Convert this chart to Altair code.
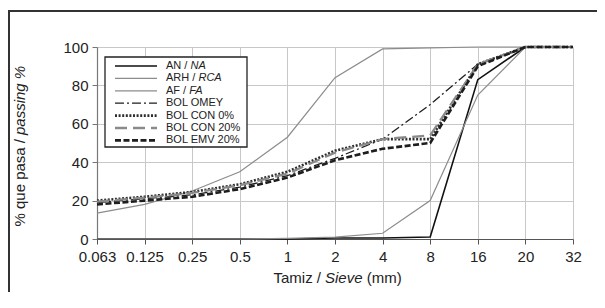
import altair as alt
import pandas as pd

# ---- data ----
sieves = ["0.063", "0.125", "0.25", "0.5", "1", "2", "4", "8", "16", "20", "32"]
an_na = [0, 0, 0, 0, 0, 0.5, 0.5, 1, 83, 100, 100]
arh_rca = [0, 0, 0, 0, 0.3, 1, 3, 20, 75, 100, 100]
af_fa = [13.5, 18, 25, 35, 53, 84, 99, 99.5, 100, 100, 100]
bol_omey = [19, 21, 23, 27, 33, 42, 52, 70, 91, 100, 100]
bol_con0 = [20, 22, 24.5, 28.5, 35, 46, 52, 52, 91, 100, 100]
bol_con20 = [19.5, 21.5, 24, 28, 34, 45, 52, 54, 91, 100, 100]
bol_emv20 = [18, 20, 22, 26, 32, 41, 47, 50, 90, 100, 100]

series_names = ["AN / NA", "ARH / RCA", "AF / FA", "BOL OMEY", "BOL CON 0%", "BOL CON 20%", "BOL EMV 20%"]
legend_plain = ["AN /", "ARH /", "AF /", "BOL OMEY", "BOL CON 0%", "BOL CON 20%", "BOL EMV 20%"]
legend_italic = ["NA", "RCA", "FA", "", "", "", ""]
series_values = [an_na, arh_rca, af_fa, bol_omey, bol_con0, bol_con20, bol_emv20]

# ---- styles ----
styles = {
    "AN / NA": dict(color="#111111", strokeWidth=1.6),
    "ARH / RCA": dict(color="#8c8c8c", strokeWidth=1.2),
    "AF / FA": dict(color="#8c8c8c", strokeWidth=1.2),
    "BOL OMEY": dict(color="#1e1e1e", strokeWidth=1.3, strokeDash=[9, 3, 2, 3]),
    "BOL CON 0%": dict(color="#2e2e2e", strokeWidth=2.6, strokeDash=[2, 1.6]),
    "BOL CON 20%": dict(color="#8a8a8a", strokeWidth=2.3, strokeDash=[12, 6]),
    "BOL EMV 20%": dict(color="#1e1e1e", strokeWidth=2.6, strokeDash=[6, 2.5]),
}

FONT = "Liberation Sans"
W, H = 476, 192
PAD_L, PAD_T = 89, 39
TOTAL_W, TOTAL_H = 589, 284

rows = []
for name, vals in zip(series_names, series_values):
    for s, v in zip(sieves, vals):
        rows.append({"series": name, "sieve": s, "value": v})
df = pd.DataFrame(rows)

x_enc = alt.X(
    "sieve:O",
    sort=sieves,
    scale=alt.Scale(type="point", padding=0),
    axis=alt.Axis(
        title=None, labelAngle=0, grid=True, gridColor="#c8c8c8", gridWidth=1,
        domainColor="#555555", domainWidth=1.2, tickColor="#555555", tickSize=5,
        labelFont=FONT, labelFontSize=15, labelColor="#222222", labelPadding=5,
        labelOverlap=False, labelBound=False, labelFlush=False,
    ),
)
y_enc = alt.Y(
    "value:Q",
    scale=alt.Scale(domain=[0, 100], nice=False),
    axis=alt.Axis(
        title=None, values=[0, 20, 40, 60, 80, 100], grid=True, gridColor="#c8c8c8",
        gridWidth=1, domainColor="#777777", domainWidth=1.2, tickColor="#777777",
        tickSize=5, labelFont=FONT, labelFontSize=15, labelColor="#222222",
        labelPadding=4,
    ),
)

layers = []
for name in series_names:
    st = styles[name]
    layers.append(
        alt.Chart(df[df.series == name])
        .mark_line(**st, strokeCap="butt")
        .encode(x=x_enc, y=y_enc)
    )

one = pd.DataFrame({"k": [0]})

# outer frame
frame = alt.Chart(one).mark_rect(fill=None, stroke="#333333", strokeWidth=2).encode(
    x=alt.value(-88), x2=alt.value(700), y=alt.value(-36), y2=alt.value(500)
)

# ---- custom legend ----
arial = {
    "A": .667, "N": .722, "R": .722, "H": .722, "F": .611, " ": .278, "/": .278,
}
def tw(s, size):
    return sum(arial.get(c, .556) for c in s) * size

LEG_FS = 11
leg_x0, leg_x1, leg_y0, leg_y1 = 8, 150, 10, 100
line_x0, line_x1, lab_x = 18, 60, 69
row_y0, row_dy = 19, 12.4

legend_layers = [
    alt.Chart(one).mark_rect(fill="white", stroke="#222222", strokeWidth=1.3).encode(
        x=alt.value(leg_x0), x2=alt.value(leg_x1), y=alt.value(leg_y0), y2=alt.value(leg_y1)
    )
]
for i, name in enumerate(series_names):
    st = styles[name]
    ry = row_y0 + i * row_dy
    legend_layers.append(
        alt.Chart(one).mark_rule(**st, strokeCap="butt").encode(
            x=alt.value(line_x0), x2=alt.value(line_x1), y=alt.value(ry)
        )
    )
    legend_layers.append(
        alt.Chart(one).mark_text(
            text=legend_plain[i], align="left", baseline="middle", font=FONT,
            fontSize=LEG_FS, color="#222222",
        ).encode(x=alt.value(lab_x), y=alt.value(ry))
    )
    if legend_italic[i]:
        legend_layers.append(
            alt.Chart(one).mark_text(
                text=legend_italic[i], align="left", baseline="middle", font=FONT,
                fontSize=LEG_FS, fontStyle="italic", color="#222222",
            ).encode(x=alt.value(lab_x + tw(legend_plain[i], LEG_FS) + 3.1), y=alt.value(ry))
        )

# ---- axis titles with italic parts ----
TFS = 15
ytitle_x, ytitle_j = -77, 90
title_layers = [
    alt.Chart(one).mark_text(
        text="% que pasa /", angle=270, align="right", baseline="middle",
        font=FONT, fontSize=TFS, color="#222222",
    ).encode(x=alt.value(ytitle_x), y=alt.value(ytitle_j + 2)),
    alt.Chart(one).mark_text(
        text="passing %", angle=270, align="left", baseline="middle",
        font=FONT, fontSize=TFS, fontStyle="italic", color="#222222",
    ).encode(x=alt.value(ytitle_x), y=alt.value(ytitle_j - 2)),
]
xt_a, xt_y = 224, 231
sieve_w = (.667 + .222 + .556 + .5 + .556) * TFS
title_layers += [
    alt.Chart(one).mark_text(
        text="Tamiz /", align="right", baseline="middle", font=FONT,
        fontSize=TFS, color="#222222",
    ).encode(x=alt.value(xt_a), y=alt.value(xt_y)),
    alt.Chart(one).mark_text(
        text="Sieve", align="left", baseline="middle", font=FONT,
        fontSize=TFS, fontStyle="italic", color="#222222",
    ).encode(x=alt.value(xt_a + 4), y=alt.value(xt_y)),
    alt.Chart(one).mark_text(
        text="(mm)", align="left", baseline="middle", font=FONT,
        fontSize=TFS, color="#222222",
    ).encode(x=alt.value(xt_a + 4 + sieve_w + 4.2), y=alt.value(xt_y)),
]

chart = alt.layer(frame, *layers, *legend_layers, *title_layers).properties(
    width=W, height=H,
    autosize=alt.AutoSizeParams(type="none"),
    padding={"left": PAD_L, "top": PAD_T, "right": TOTAL_W - PAD_L - W, "bottom": TOTAL_H - PAD_T - H},
    background="white",
).configure_view(stroke=None)

chart.save("out.html", embed_options={"renderer": "svg", "actions": False})
